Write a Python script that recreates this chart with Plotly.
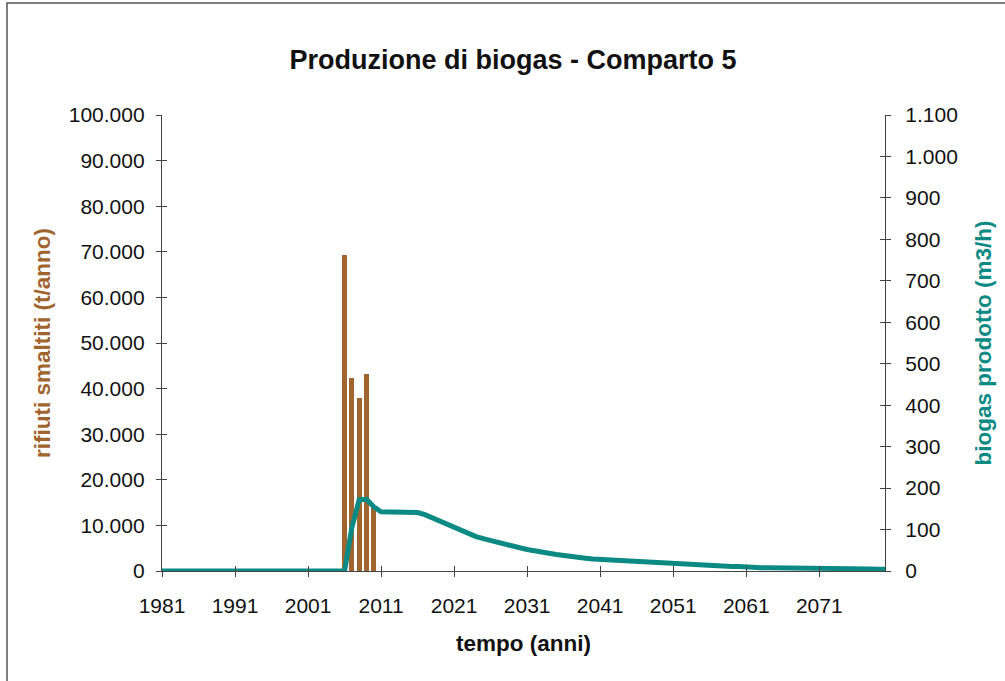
import plotly.graph_objects as go

# ---- data ----
bar_years = [2006, 2007, 2008, 2009, 2010]
rifiuti = [69300, 42300, 38000, 43300, 14300]

line_years = list(range(1981, 2081))
biogas = ([0] * 26 +                                   # 1981-2006
          [105, 172, 173, 155, 143,                    # 2007-2011
           142, 142, 142, 142, 141,                    # 2012-2016
           136, 128, 120, 112, 104,                    # 2017-2021
           96, 89, 83, 78, 73,                         # 2022-2026
           68, 64, 60, 56, 52,                         # 2027-2031
           48, 45, 43, 40, 37,                         # 2032-2036
           34, 33, 31, 29, 28,                         # 2037-2041
           26, 25, 23, 22, 21,                         # 2042-2046
           20, 19, 18, 17, 16,                         # 2047-2051
           15, 14, 14, 13, 13,                         # 2052-2056
           12, 12, 11, 11, 9,                          # 2057-2061
           9, 8, 8, 8, 7,                              # 2062-2066
           7, 7, 7, 6, 6,                              # 2067-2071
           6, 6, 5, 5, 5,                              # 2072-2076
           5, 5, 4, 4])                                # 2077-2080

x_ticks = list(range(1981, 2080, 10))
left_ticks = list(range(0, 100001, 10000))
left_labels = ["0"] + [f"{v // 1000}.000" for v in left_ticks[1:]]
right_ticks = list(range(0, 1101, 100))
right_labels = [str(v) if v < 1000 else f"{v // 1000}.{v % 1000:03d}" for v in right_ticks]

title = "Produzione di biogas - Comparto 5"
x_title = "tempo (anni)"
y_title = "rifiuti smaltiti (t/anno)"
y2_title = "biogas prodotto (m3/h)"

BROWN = "#A0652F"
TEAL = "#0B8A84"
AX = "#444444"
FONT = "Liberation Sans, Arial, sans-serif"

fig = go.Figure()
fig.add_trace(go.Bar(x=bar_years, y=rifiuti, width=0.68, marker=dict(color=BROWN, line_width=0),
                     xaxis="x", yaxis="y", showlegend=False))
fig.add_trace(go.Scatter(x=line_years, y=biogas, mode="lines", line=dict(color=TEAL, width=5),
                         xaxis="x", yaxis="y2", showlegend=False))
# invisible traces to carry the inner-tick overlay axes
fig.add_trace(go.Scatter(x=[None], y=[None], xaxis="x2", yaxis="y3", showlegend=False, hoverinfo="skip"))
fig.add_trace(go.Scatter(x=[None], y=[None], xaxis="x2", yaxis="y4", showlegend=False, hoverinfo="skip"))

xr = [1981, 2080]
common_x = dict(range=xr, tickvals=x_ticks, showgrid=False, zeroline=False,
                showline=True, linecolor=AX, linewidth=1.3, tickcolor=AX, ticklen=5, tickwidth=1.3)

fig.update_layout(
    width=1005, height=681,
    margin=dict(l=162, r=120, t=115, b=110),
    paper_bgcolor="white", plot_bgcolor="white",
    font=dict(family=FONT, size=21, color="#111111"),
    title=dict(text=f"<b>{title}</b>", x=513 / 1005, xanchor="center", y=1 - 60 / 681, yanchor="middle",
               font=dict(size=27, color="#111111")),
    bargap=0,
    xaxis=dict(**common_x, ticks="outside", ticktext=[str(t) for t in x_ticks],
               title=dict(text=f"<b>{x_title}</b>", font=dict(size=22.5, color="#111111"), standoff=18),
               ticklabelstandoff=11),
    xaxis2=dict(**common_x, ticks="inside", overlaying="x", showticklabels=False, side="bottom"),
    yaxis=dict(range=[0, 100000], tickvals=left_ticks, ticktext=left_labels, ticks="outside",
               showgrid=False, zeroline=False, showline=True, linecolor=AX, linewidth=1.3,
               tickcolor=AX, ticklen=5, tickwidth=1.3, ticklabelstandoff=7,
               title=dict(text=f"<b>{y_title}</b>", font=dict(size=22.5, color=BROWN), standoff=11)),
    yaxis2=dict(range=[0, 1100], tickvals=right_ticks, ticktext=right_labels, ticks="outside",
                overlaying="y", side="right", showgrid=False, zeroline=False, showline=True,
                linecolor=AX, linewidth=1.3, tickcolor=AX, ticklen=5, tickwidth=1.3, ticklabelstandoff=10,
                title=dict(text=f"<b>{y2_title}</b>", font=dict(size=22.5, color=TEAL), standoff=18)),
    yaxis3=dict(range=[0, 100000], tickvals=left_ticks, ticks="inside", overlaying="y", side="left",
                showticklabels=False, showgrid=False, zeroline=False, showline=False,
                tickcolor=AX, ticklen=5, tickwidth=1.3),
    yaxis4=dict(range=[0, 1100], tickvals=right_ticks, ticks="inside", overlaying="y", side="right",
                showticklabels=False, showgrid=False, zeroline=False, showline=False,
                tickcolor=AX, ticklen=5, tickwidth=1.3),
    shapes=[dict(type="rect", xref="paper", yref="paper",
                 x0=(7 - 162) / 723, x1=(1010 - 162) / 723,
                 y0=-(690 - 571) / 456, y1=1 + (115 - 3) / 456,
                 line=dict(color="#555555", width=1.5), fillcolor="rgba(0,0,0,0)", layer="below")],
)

fig.write_html("out.html", config={"displayModeBar": False},
               post_script="document.body.style.margin='0';")
